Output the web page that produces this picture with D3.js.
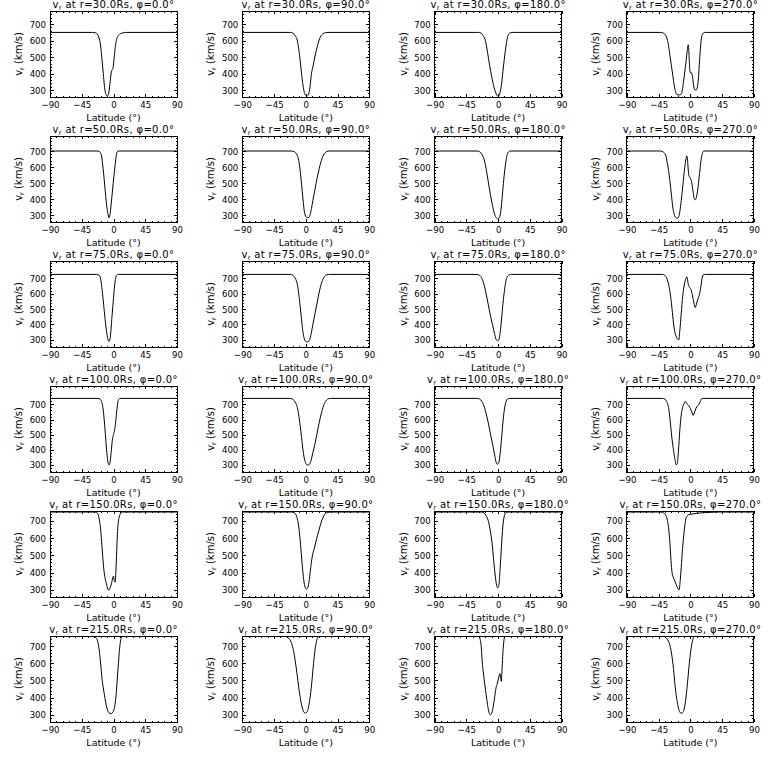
<!DOCTYPE html>
<html>
<head>
<meta charset="utf-8">
<script src="https://cdn.jsdelivr.net/npm/d3@7"></script>
<style>
  html, body { margin: 0; padding: 0; background: #fff; }
  svg { display: block; }
  text { font-family: "DejaVu Sans", sans-serif; fill: #000; }
</style>
</head>
<body>
<svg id="chart" width="768" height="768"></svg>
<script>
// ---------- categories / ticks ----------
const radii = [30.0, 50.0, 75.0, 100.0, 150.0, 215.0];
const phis = [0.0, 90.0, 180.0, 270.0];
const latTicks = [-90, -45, 0, 45, 90];
const vTicks = [300, 400, 500, 600, 700];
const latRange = [-90, 90];
const vRanges = [[258, 780], [256, 794], [254, 812], [253, 822], [259, 756], [258, 759]];

// ---------- series: [latitude (deg), v_r (km/s)] ----------
const r30_p0 = [[-90,650],[-30,650],[-26,648],[-23,640],[-21,622],[-19,590],[-17.5,540],[-16,470],[-14.5,400],[-13,330],[-11.5,285],[-10,268],[-8.5,265],[-7,275],[-5.5,320],[-4,380],[-2.5,420],[-1.5,425],[-0.5,440],[1,500],[2.5,560],[4,600],[6,625],[9,640],[13,647],[18,650],[90,650]];
const r30_p90 = [[-90,650],[-22,650],[-18,645],[-15,630],[-12,600],[-10,550],[-8,480],[-6,400],[-4,330],[-2,285],[0,268],[2,265],[4,275],[6,320],[8,400],[10,440],[13,505],[16,560],[19,605],[22,632],[26,646],[30,650],[90,650]];
const r30_p180 = [[-90,650],[-28,650],[-24,645],[-21,630],[-18,600],[-15,530],[-12,450],[-9,380],[-6,320],[-3,280],[-1,265],[1,265],[3,290],[5,340],[7.5,440],[10,530],[12,590],[14,630],[17,647],[20,650],[90,650]];
const r30_p270 = [[-90,650],[-42,650],[-38,645],[-35,632],[-33,610],[-31,570],[-29,510],[-27,450],[-25,390],[-23,330],[-21,290],[-19,272],[-16,270],[-13,275],[-11,310],[-9.5,360],[-8,410],[-6,480],[-4.5,540],[-3,575],[-2,520],[-1,430],[0,405],[1.5,405],[3,380],[4.5,330],[6,302],[8,300],[10,320],[11.5,380],[13,480],[14.5,570],[16,625],[18,645],[21,650],[90,650]];

const r50_p0 = [[-90,700],[-22,700],[-19,692],[-17,672],[-15.5,620],[-14,560],[-12,465],[-10,370],[-8,310],[-6.5,283],[-5,300],[-3.5,360],[-1.5,450],[0.5,540],[2,600],[3.5,660],[5,692],[6.5,700],[90,700]];
const r50_p90 = [[-90,700],[-20,700],[-16,695],[-13,680],[-10,640],[-8,580],[-6,490],[-4,400],[-2,320],[0,290],[2,283],[4,285],[6,300],[8,340],[10,390],[13,460],[16,530],[19,590],[22,640],[25,675],[28,692],[32,700],[90,700]];
const r50_p180 = [[-90,700],[-30,700],[-26,695],[-23,680],[-20,650],[-17,590],[-14,510],[-11,430],[-8,360],[-5,305],[-2,280],[0,275],[2,285],[4,330],[6,420],[8,520],[10,600],[12,660],[14,690],[17,700],[90,700]];
const r50_p270 = [[-90,700],[-42,700],[-38,692],[-35,675],[-33,630],[-31,580],[-29,510],[-27,430],[-25,350],[-23,305],[-21,285],[-19,280],[-17,285],[-15,320],[-13,390],[-11,470],[-9,560],[-7,630],[-5,670],[-4,640],[-3,580],[-2,545],[0,530],[2,500],[4,440],[5.5,400],[7,395],[9,420],[11,480],[13,560],[15,640],[17,685],[19,700],[90,700]];

const r75_p0 = [[-90,725],[-24,725],[-20,718],[-18,690],[-16,620],[-14,530],[-12,440],[-10,360],[-8,305],[-6.5,290],[-5,305],[-3.5,370],[-2,460],[0,570],[1.5,650],[3,700],[5,722],[7,725],[90,725]];
const r75_p90 = [[-90,725],[-22,725],[-18,718],[-15,700],[-12,660],[-10,600],[-8,520],[-6,430],[-4,350],[-2,305],[0,290],[2,287],[4,290],[6,310],[8,350],[10,400],[13,470],[16,540],[19,610],[22,665],[25,700],[28,718],[32,725],[90,725]];
const r75_p180 = [[-90,725],[-30,725],[-26,718],[-23,700],[-20,660],[-17,600],[-14,530],[-11,460],[-8,400],[-5,340],[-3,305],[-1,295],[1,300],[3,350],[5,440],[7,540],[9,620],[11,680],[13,710],[16,722],[19,725],[90,725]];
const r75_p270 = [[-90,725],[-40,725],[-36,718],[-34,705],[-32,680],[-30,640],[-28,580],[-26,500],[-24,410],[-22,350],[-20,320],[-18,305],[-16.5,300],[-15,360],[-13,470],[-11,580],[-9,650],[-7,690],[-5,710],[-4,690],[-3,660],[-1,640],[1,625],[3,585],[5,540],[7,510],[9,540],[11,570],[13,600],[15,650],[16.5,700],[18,722],[20,725],[90,725]];

const r100_p0 = [[-90,740],[-22,740],[-19,735],[-17,720],[-15,680],[-13,590],[-11,470],[-9,360],[-7.5,310],[-6,300],[-4.5,330],[-3,400],[-1.5,470],[0,500],[1.5,530],[3,580],[4.5,650],[6,710],[7.5,735],[9,740],[90,740]];
const r100_p90 = [[-90,740],[-22,740],[-18,733],[-15,715],[-12,680],[-10,630],[-8,560],[-6,480],[-4,400],[-2,340],[0,310],[2,300],[4,300],[6,310],[8,340],[10,380],[13,440],[16,510],[19,580],[22,640],[25,690],[28,720],[31,735],[35,740],[90,740]];
const r100_p180 = [[-90,740],[-30,740],[-26,735],[-23,720],[-20,690],[-17,640],[-14,580],[-11,510],[-8,440],[-5,370],[-3,320],[-1,305],[1,315],[3,380],[5,480],[7,590],[9,670],[11,715],[13,735],[16,740],[90,740]];
const r100_p270 = [[-90,740],[-40,740],[-36,735],[-34,722],[-32,700],[-30,650],[-28,560],[-26,470],[-24,400],[-22,340],[-20,300],[-18.5,310],[-17,390],[-15,530],[-13,630],[-11,680],[-9,705],[-7.5,720],[-6,712],[-4,700],[-2,690],[0,672],[2,650],[4,628],[6,650],[8,675],[10,690],[12,700],[14,720],[16,738],[18,740],[90,740]];

const r150_p0 = [[-90,750],[-26,750],[-23,745],[-21,725],[-19.5,690],[-18,640],[-16.5,560],[-15,480],[-13.5,410],[-12,370],[-10,335],[-8,305],[-6.5,298],[-5,310],[-3,335],[-1,370],[0,380],[1,355],[2.5,345],[3.5,420],[4.5,520],[5.5,620],[6.5,680],[8,720],[10,740],[13,750],[90,750]];
const r150_p90 = [[-90,750],[-20,750],[-16,745],[-13,725],[-11,690],[-9,630],[-7,540],[-5,440],[-3,360],[-1,315],[1,305],[3,315],[5,360],[7,430],[9,490],[12,540],[15,590],[18,635],[21,680],[24,715],[27,738],[31,748],[35,750],[90,750]];
const r150_p180 = [[-90,750],[-24,750],[-20,745],[-17,730],[-14,700],[-11,640],[-8,550],[-6,460],[-4,380],[-2,325],[-0.5,312],[1,325],[2.5,400],[4,500],[5.5,600],[7,680],[9,730],[11,746],[14,750],[90,750]];
const r150_p270 = [[-90,750],[-42,750],[-38,745],[-35,732],[-33,710],[-31,660],[-29,570],[-27.5,470],[-26,400],[-24,370],[-22,350],[-20,330],[-18,310],[-16,300],[-14.5,350],[-13,430],[-11.5,520],[-10,590],[-8.5,650],[-7,700],[-5,725],[-2,735],[2,738],[8,742],[15,745],[25,748],[40,750],[90,750]];

const r215_p0 = [[-90,757],[-28,757],[-25,750],[-23,735],[-21,700],[-19.5,650],[-18,590],[-16.5,520],[-15,470],[-13,420],[-11,370],[-9,335],[-7,315],[-5,308],[-3,307],[-1,315],[1,335],[2.5,370],[4,430],[5.5,520],[7,600],[8.5,680],[10,730],[11.5,752],[13,757],[90,757]];
const r215_p90 = [[-90,757],[-29,757],[-26,752],[-23,740],[-20,715],[-17.5,675],[-15,615],[-12.5,540],[-10,460],[-7.5,390],[-5,340],[-3,318],[-1,310],[1,313],[3,330],[5,370],[7,430],[9,510],[11,600],[13,675],[15,725],[17,750],[19,757],[90,757]];
const r215_p180 = [[-90,757],[-27,757],[-25.5,740],[-24,700],[-22.5,610],[-21,550],[-19,480],[-17,420],[-15,360],[-13,315],[-11,300],[-9,310],[-7,345],[-5,400],[-3,455],[-1,485],[1,520],[2.5,540],[3.5,520],[4.5,495],[5.5,560],[6.5,640],[7.5,700],[8.5,740],[9.5,757],[90,757]];
const r215_p270 = [[-90,757],[-38,757],[-35,750],[-32,735],[-29,705],[-26.5,650],[-24,570],[-22,480],[-20,410],[-18,360],[-16,325],[-14,311],[-12,310],[-10,320],[-8,350],[-6,410],[-4,490],[-2,580],[0,655],[2,712],[4,745],[6,757],[90,757]];

// table built from the named series (rows = radius, columns = phi)
const seriesTable = [
  [r30_p0, r30_p90, r30_p180, r30_p270],
  [r50_p0, r50_p90, r50_p180, r50_p270],
  [r75_p0, r75_p90, r75_p180, r75_p270],
  [r100_p0, r100_p90, r100_p180, r100_p270],
  [r150_p0, r150_p90, r150_p180, r150_p270],
  [r215_p0, r215_p90, r215_p180, r215_p270]
];

// ---------- layout ----------
const svg = d3.select("#chart");
const W = 127, H = 86;
const colLeft = c => 50 + 192.3 * c;
const rowTop = r => 11 + 125 * r;
const fmtNum = d => (d < 0 ? "\u2212" + Math.abs(d) : String(d));
const tickFont = '"DejaVu Sans Condensed","DejaVu Sans",sans-serif';

radii.forEach((rad, ri) => {
  phis.forEach((phi, ci) => {
    const L = colLeft(ci), T = rowTop(ri);
    const x = d3.scaleLinear().domain(latRange).range([0, W]);
    const y = d3.scaleLinear().domain(vRanges[ri]).range([H, 0]);
    const g = svg.append("g").attr("transform", `translate(${L},${T})`);

    const cid = `clip-${ri}-${ci}`;
    g.append("clipPath").attr("id", cid).append("rect").attr("width", W).attr("height", H);

    g.append("rect").attr("x", 0).attr("y", 0).attr("width", W).attr("height", H)
      .attr("fill", "none").attr("stroke", "#000").attr("stroke-width", 1)
      .attr("shape-rendering", "crispEdges");

    const xMinor = d3.range(-90, 90.001, 9);
    const yMinor = d3.range(Math.ceil(vRanges[ri][0] / 20) * 20, vRanges[ri][1], 20);
    const mk = (axisFn, scale, vals, len) => axisFn(scale).tickValues(vals).tickSize(len).tickFormat("");
    const addAxis = (axis, tr) => {
      const a = g.append("g").attr("transform", tr).call(axis);
      a.select(".domain").remove();
      a.selectAll("line").attr("stroke", "#000").attr("shape-rendering", "crispEdges");
      return a;
    };
    addAxis(mk(d3.axisTop, x, latTicks, 3), `translate(0,${H})`);
    addAxis(mk(d3.axisTop, x, xMinor, 1.5), `translate(0,${H})`);
    addAxis(mk(d3.axisBottom, x, latTicks, 3), `translate(0,0)`);
    addAxis(mk(d3.axisBottom, x, xMinor, 1.5), `translate(0,0)`);
    addAxis(mk(d3.axisRight, y, vTicks, 3.5), `translate(0,0)`);
    addAxis(mk(d3.axisRight, y, yMinor, 1.5), `translate(0,0)`);
    addAxis(mk(d3.axisLeft, y, vTicks, 3.5), `translate(${W},0)`);
    addAxis(mk(d3.axisLeft, y, yMinor, 1.5), `translate(${W},0)`);

    const xl = d3.axisBottom(x).tickValues(latTicks).tickSize(0).tickPadding(0).tickFormat(fmtNum);
    const gx = g.append("g").attr("transform", `translate(0,${H + 4})`).call(xl);
    gx.select(".domain").remove();
    gx.selectAll("text").attr("font-size", "9.5px").attr("dy", "0.71em")
      .style("font-family", tickFont).attr("fill", "#000");

    const yl = d3.axisLeft(y).tickValues(vTicks).tickSize(0).tickPadding(4).tickFormat(d => String(d));
    const gy = g.append("g").call(yl);
    gy.select(".domain").remove();
    gy.selectAll("text").attr("font-size", "9.5px")
      .style("font-family", tickFont).attr("fill", "#000");

    const line = d3.line().x(d => x(d[0])).y(d => y(d[1])).curve(d3.curveMonotoneX);
    g.append("path").datum(seriesTable[ri][ci])
      .attr("clip-path", `url(#${cid})`)
      .attr("d", line).attr("fill", "none").attr("stroke", "#000").attr("stroke-width", 1);

    // title
    const t = g.append("text").attr("x", W / 2).attr("y", -3).attr("text-anchor", "middle")
      .attr("font-size", "10px").attr("letter-spacing", "0.35px");
    t.append("tspan").text("v");
    t.append("tspan").attr("font-size", "6.5px").attr("dy", "2").text("r");
    t.append("tspan").attr("dy", "-2").text(` at r=${rad.toFixed(1)}Rs, `);
    t.append("tspan").style("font-family", '"DejaVu Sans"').attr("fill", "#000").text("\u03C6");
    t.append("tspan").text(`=${phi.toFixed(1)}\u00B0`);

    // x title
    g.append("text").attr("x", W / 2).attr("y", H + 24).attr("text-anchor", "middle")
      .attr("font-size", "9.5px").text("Latitude (\u00B0)");

    // y title
    const yt = g.append("text").attr("transform", `translate(-28,${H / 2}) rotate(-90)`)
      .attr("text-anchor", "middle").attr("font-size", "10px");
    yt.append("tspan").text("v");
    yt.append("tspan").attr("font-size", "6.5px").attr("dy", "2").text("r");
    yt.append("tspan").attr("dy", "-2").text(" (km/s)");
  });
});
</script>
</body>
</html>
